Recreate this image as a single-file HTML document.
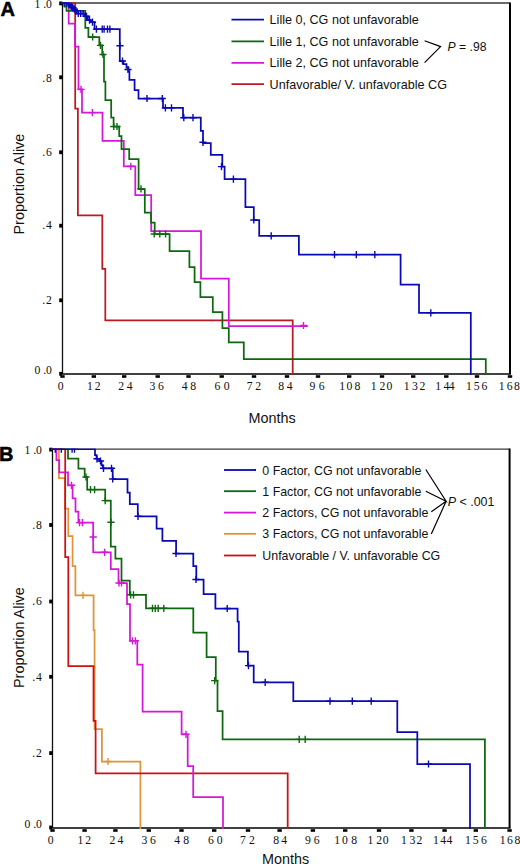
<!DOCTYPE html>
<html><head><meta charset="utf-8"><title>Kaplan-Meier survival curves</title>
<style>
html,body{margin:0;padding:0;background:#fff;}
body{width:520px;height:864px;overflow:hidden;}
svg{display:block;}
.tl{font-family:"Liberation Serif",serif;font-size:11.7px;fill:#111;}
.yl{font-family:"Liberation Serif",serif;font-size:11.7px;fill:#111;}
.lg{font-family:"Liberation Sans",sans-serif;font-size:12.6px;fill:#111;}
.lgb{font-family:"Liberation Sans",sans-serif;font-size:12.4px;fill:#111;}
.at{font-family:"Liberation Sans",sans-serif;font-size:14.4px;fill:#111;}
.pl{font-family:"Liberation Sans",sans-serif;font-size:20px;font-weight:bold;fill:#000;stroke:#000;stroke-width:0.5px;}
</style></head>
<body>
<svg width="520" height="864" viewBox="0 0 520 864">
<rect width="520" height="864" fill="#fff"/>
<text x="0.4" y="15.6" class="pl">A</text>
<line x1="62.5" y1="3.0" x2="510.0" y2="3.0" stroke="#3a3a3a" stroke-width="1.3"/>
<line x1="510.0" y1="2.4" x2="510.0" y2="374.0" stroke="#000" stroke-width="2"/>
<line x1="62.5" y1="2.4" x2="62.5" y2="374.0" stroke="#111" stroke-width="1.3"/>
<line x1="62.5" y1="374.0" x2="511.0" y2="374.0" stroke="#000" stroke-width="1.7"/>
<rect x="60.3" y="375.2" width="4.4" height="2.6" fill="#000"/>
<rect x="91.6" y="375.2" width="4.4" height="2.6" fill="#000"/>
<rect x="122.0" y="375.2" width="4.4" height="2.6" fill="#000"/>
<rect x="155.5" y="375.2" width="4.4" height="2.6" fill="#000"/>
<rect x="186.3" y="375.2" width="4.4" height="2.6" fill="#000"/>
<rect x="219.5" y="375.2" width="4.4" height="2.6" fill="#000"/>
<rect x="251.8" y="375.2" width="4.4" height="2.6" fill="#000"/>
<rect x="284.8" y="375.2" width="4.4" height="2.6" fill="#000"/>
<rect x="315.8" y="375.2" width="4.4" height="2.6" fill="#000"/>
<rect x="347.0" y="375.2" width="4.4" height="2.6" fill="#000"/>
<rect x="379.8" y="375.2" width="4.4" height="2.6" fill="#000"/>
<rect x="411.0" y="375.2" width="4.4" height="2.6" fill="#000"/>
<rect x="444.1" y="375.2" width="4.4" height="2.6" fill="#000"/>
<rect x="474.8" y="375.2" width="4.4" height="2.6" fill="#000"/>
<rect x="507.8" y="375.2" width="4.4" height="2.6" fill="#000"/>
<text x="60.60" y="390.2" class="tl" text-anchor="middle">0</text>
<text x="90.00" y="390.2" class="tl" text-anchor="middle">1</text>
<text x="97.75" y="390.2" class="tl" text-anchor="middle">2</text>
<text x="121.25" y="390.2" class="tl" text-anchor="middle">2</text>
<text x="129.70" y="390.2" class="tl" text-anchor="middle">4</text>
<text x="152.50" y="390.2" class="tl" text-anchor="middle">3</text>
<text x="160.90" y="390.2" class="tl" text-anchor="middle">6</text>
<text x="184.70" y="390.2" class="tl" text-anchor="middle">4</text>
<text x="193.10" y="390.2" class="tl" text-anchor="middle">8</text>
<text x="217.50" y="390.2" class="tl" text-anchor="middle">6</text>
<text x="226.60" y="390.2" class="tl" text-anchor="middle">0</text>
<text x="249.70" y="390.2" class="tl" text-anchor="middle">7</text>
<text x="258.10" y="390.2" class="tl" text-anchor="middle">2</text>
<text x="281.25" y="390.2" class="tl" text-anchor="middle">8</text>
<text x="289.70" y="390.2" class="tl" text-anchor="middle">4</text>
<text x="312.50" y="390.2" class="tl" text-anchor="middle">9</text>
<text x="321.60" y="390.2" class="tl" text-anchor="middle">6</text>
<text x="342.20" y="390.2" class="tl" text-anchor="middle">1</text>
<text x="349.40" y="390.2" class="tl" text-anchor="middle">0</text>
<text x="357.50" y="390.2" class="tl" text-anchor="middle">8</text>
<text x="373.75" y="390.2" class="tl" text-anchor="middle">1</text>
<text x="382.50" y="390.2" class="tl" text-anchor="middle">2</text>
<text x="389.40" y="390.2" class="tl" text-anchor="middle">0</text>
<text x="406.60" y="390.2" class="tl" text-anchor="middle">1</text>
<text x="415.00" y="390.2" class="tl" text-anchor="middle">3</text>
<text x="422.50" y="390.2" class="tl" text-anchor="middle">2</text>
<text x="438.25" y="390.2" class="tl" text-anchor="middle">1</text>
<text x="446.30" y="390.2" class="tl" text-anchor="middle">4</text>
<text x="451.70" y="390.2" class="tl" text-anchor="middle">4</text>
<text x="469.00" y="390.2" class="tl" text-anchor="middle">1</text>
<text x="476.70" y="390.2" class="tl" text-anchor="middle">5</text>
<text x="484.50" y="390.2" class="tl" text-anchor="middle">6</text>
<text x="501.75" y="390.2" class="tl" text-anchor="middle">1</text>
<text x="509.60" y="390.2" class="tl" text-anchor="middle">6</text>
<text x="517.00" y="390.2" class="tl" text-anchor="middle">8</text>
<rect x="59.2" y="1.5" width="3.3" height="3.8" fill="#000"/>
<text x="37.40" y="7.6" class="yl" text-anchor="middle">1</text>
<text x="44.80" y="7.6" class="yl" text-anchor="middle">.</text>
<text x="49.00" y="7.6" class="yl" text-anchor="middle">0</text>
<rect x="59.2" y="75.4" width="3.3" height="3.8" fill="#000"/>
<text x="43.60" y="81.6" class="yl" text-anchor="middle">.</text>
<text x="48.80" y="81.6" class="yl" text-anchor="middle">8</text>
<rect x="59.2" y="150.4" width="3.3" height="3.8" fill="#000"/>
<text x="43.60" y="156.4" class="yl" text-anchor="middle">.</text>
<text x="48.80" y="156.4" class="yl" text-anchor="middle">6</text>
<rect x="59.2" y="223.8" width="3.3" height="3.8" fill="#000"/>
<text x="43.60" y="229.4" class="yl" text-anchor="middle">.</text>
<text x="48.80" y="229.4" class="yl" text-anchor="middle">4</text>
<rect x="59.2" y="298.4" width="3.3" height="3.8" fill="#000"/>
<text x="43.60" y="303.9" class="yl" text-anchor="middle">.</text>
<text x="48.80" y="303.9" class="yl" text-anchor="middle">2</text>
<rect x="59.2" y="371.9" width="3.3" height="3.8" fill="#000"/>
<text x="37.40" y="374.0" class="yl" text-anchor="middle">0</text>
<text x="44.80" y="374.0" class="yl" text-anchor="middle">.</text>
<text x="49.00" y="374.0" class="yl" text-anchor="middle">0</text>
<defs><clipPath id="ca"><rect x="0" y="2.3" width="520" height="420"/></clipPath><clipPath id="cb"><rect x="0" y="448.5" width="520" height="400"/></clipPath></defs>
<g clip-path="url(#ca)">
<path d="M62.5 3.0 L75.2 3.0 L75.2 108.6 L77.9 108.6 L77.9 215.3 L102.3 215.3 L102.3 268.9 L105.3 268.9 L105.3 320.4 L292.7 320.4 L292.7 374.0" stroke="#bc1a22" stroke-width="1.75" fill="none" stroke-linejoin="miter" stroke-linecap="square"/>
<path d="M62.5 3.0 L68.7 3.0 L68.7 23.6 L75.0 23.6 L75.0 46.6 L78.5 46.6 L78.5 89.4 L82.0 89.4 L82.0 112.6 L102.5 112.6 L102.5 140.8 L123.8 140.8 L123.8 166.3 L135.3 166.3 L135.3 195.0 L151.2 195.0 L151.2 231.0 L201.0 231.0 L201.0 278.7 L228.8 278.7 L228.8 326.2 L307.0 326.2" stroke="#d417d8" stroke-width="1.75" fill="none" stroke-linejoin="miter" stroke-linecap="square"/><path d="M81.0 85.8 V93.0 M77.4 89.4 H84.6 M92.4 109.0 V116.2 M88.8 112.6 H96.0 M130.8 162.7 V169.9 M127.2 166.3 H134.4 M303.5 321.9 V329.1 M299.9 325.5 H307.1 " stroke="#d417d8" stroke-width="1.4" fill="none"/>
<path d="M62.5 3.0 L64.6 3.0 L64.6 6.5 L66.5 6.5 L66.5 10.8 L85.3 10.8 L85.3 27.9 L88.4 27.9 L88.4 37.0 L99.3 37.0 L99.3 45.4 L102.2 45.4 L102.2 54.5 L104.0 54.5 L104.0 81.5 L105.4 81.5 L105.4 100.0 L111.2 100.0 L111.2 117.7 L113.6 117.7 L113.6 126.5 L119.2 126.5 L119.2 136.0 L121.5 136.0 L121.5 149.2 L129.2 149.2 L129.2 159.2 L138.6 159.2 L138.6 189.0 L144.8 189.0 L144.8 212.5 L151.0 212.5 L151.0 222.6 L154.7 222.6 L154.7 234.0 L169.6 234.0 L169.6 251.2 L189.4 251.2 L189.4 267.0 L194.6 267.0 L194.6 282.0 L200.4 282.0 L200.4 297.1 L212.8 297.1 L212.8 312.0 L222.4 312.0 L222.4 328.0 L228.8 328.0 L228.8 342.4 L243.8 342.4 L243.8 359.1 L485.8 359.1 L485.8 374.0" stroke="#0f680f" stroke-width="1.75" fill="none" stroke-linejoin="miter" stroke-linecap="square"/><path d="M92.7 33.4 V40.6 M89.1 37.0 H96.3 M100.5 41.8 V49.0 M96.9 45.4 H104.1 M103.0 50.9 V58.1 M99.4 54.5 H106.6 M113.8 122.9 V130.1 M110.2 126.5 H117.4 M117.0 122.9 V130.1 M113.4 126.5 H120.6 M141.0 185.2 V192.4 M137.4 188.8 H144.6 M154.2 230.4 V237.6 M150.6 234.0 H157.8 M159.8 230.4 V237.6 M156.2 234.0 H163.4 M165.6 230.4 V237.6 M162.0 234.0 H169.2 " stroke="#0f680f" stroke-width="1.4" fill="none"/>
<path d="M62.5 3.0 L68.2 3.0 L68.2 4.6 L70.0 4.6 L70.0 6.2 L72.0 6.2 L72.0 7.7 L73.6 7.7 L73.6 9.2 L75.2 9.2 L75.2 10.8 L76.8 10.8 L76.8 13.5 L85.0 13.5 L85.0 16.3 L87.9 16.3 L87.9 20.2 L90.8 20.2 L90.8 22.2 L94.5 22.2 L94.5 29.1 L119.8 29.1 L119.8 61.0 L123.5 61.0 L123.5 64.0 L126.5 64.0 L126.5 67.5 L128.5 67.5 L128.5 71.0 L129.4 71.0 L129.4 79.8 L134.6 79.8 L134.6 90.0 L138.5 90.0 L138.5 98.5 L163.0 98.5 L163.0 107.9 L183.0 107.9 L183.0 117.7 L200.8 117.7 L200.8 130.8 L203.0 130.8 L203.0 143.0 L210.8 143.0 L210.8 154.8 L222.3 154.8 L222.3 166.6 L224.6 166.6 L224.6 179.2 L245.4 179.2 L245.4 207.0 L253.8 207.0 L253.8 220.0 L259.2 220.0 L259.2 235.8 L298.9 235.8 L298.9 254.6 L400.6 254.6 L400.6 284.6 L419.0 284.6 L419.0 312.9 L470.8 312.9 L470.8 374.0" stroke="#0a0ab4" stroke-width="1.75" fill="none" stroke-linejoin="miter" stroke-linecap="square"/><path d="M64.2 -0.6 V6.6 M60.6 3.0 H67.8 M66.2 -0.6 V6.6 M62.6 3.0 H69.8 M69.0 1.0 V8.2 M65.4 4.6 H72.6 M71.0 2.6 V9.8 M67.4 6.2 H74.6 M72.8 4.1 V11.3 M69.2 7.7 H76.4 M74.4 5.6 V12.8 M70.8 9.2 H78.0 M76.0 7.2 V14.4 M72.4 10.8 H79.6 M78.3 9.9 V17.1 M74.7 13.5 H81.9 M80.7 9.9 V17.1 M77.1 13.5 H84.3 M83.1 9.9 V17.1 M79.5 13.5 H86.7 M86.5 12.7 V19.9 M82.9 16.3 H90.1 M89.5 16.6 V23.8 M85.9 20.2 H93.1 M92.5 18.6 V25.8 M88.9 22.2 H96.1 M96.4 25.5 V32.7 M92.8 29.1 H100.0 M102.2 25.5 V32.7 M98.6 29.1 H105.8 M104.1 25.5 V32.7 M100.5 29.1 H107.7 M107.5 25.5 V32.7 M103.9 29.1 H111.1 M109.9 25.5 V32.7 M106.3 29.1 H113.5 M120.0 42.2 V49.4 M116.4 45.8 H123.6 M122.5 57.4 V64.6 M118.9 61.0 H126.1 M128.0 65.9 V73.1 M124.4 69.5 H131.6 M147.0 94.9 V102.1 M143.4 98.5 H150.6 M162.3 94.9 V102.1 M158.7 98.5 H165.9 M165.4 104.3 V111.5 M161.8 107.9 H169.0 M171.5 104.3 V111.5 M167.9 107.9 H175.1 M183.8 114.1 V121.3 M180.2 117.7 H187.4 M193.0 114.1 V121.3 M189.4 117.7 H196.6 M203.0 138.7 V145.9 M199.4 142.3 H206.6 M221.5 163.0 V170.2 M217.9 166.6 H225.1 M233.4 175.6 V182.8 M229.8 179.2 H237.0 M253.8 216.4 V223.6 M250.2 220.0 H257.4 M271.2 232.2 V239.4 M267.6 235.8 H274.8 M334.5 251.0 V258.2 M330.9 254.6 H338.1 M356.3 251.0 V258.2 M352.7 254.6 H359.9 M374.8 251.0 V258.2 M371.2 254.6 H378.4 M430.8 309.3 V316.5 M427.2 312.9 H434.4 " stroke="#0a0ab4" stroke-width="1.4" fill="none"/>
</g>
<line x1="231.5" y1="19.6" x2="264.0" y2="19.6" stroke="#0a0ab4" stroke-width="1.8"/>
<text x="269.6" y="24.2" class="lg">Lille 0, CG not unfavorable</text>
<line x1="231.5" y1="41.3" x2="264.0" y2="41.3" stroke="#0f680f" stroke-width="1.8"/>
<text x="269.6" y="45.9" class="lg">Lille 1, CG not unfavorable</text>
<line x1="231.5" y1="62.8" x2="264.0" y2="62.8" stroke="#d417d8" stroke-width="1.8"/>
<text x="269.6" y="67.4" class="lg">Lille 2, CG not unfavorable</text>
<line x1="231.5" y1="84.2" x2="264.0" y2="84.2" stroke="#bc1a22" stroke-width="1.8"/>
<text x="269.6" y="88.8" class="lg">Unfavorable/ V. unfavorable CG</text>
<path d="M424.6 40.8 L440.6 46.6 L424.6 62.6" stroke="#000" stroke-width="1.2" fill="none"/>
<text x="447.5" y="51.2" class="lg" style="font-size:12.2px"><tspan font-style="italic">P</tspan> = .98</text>
<text x="248.4" y="422.8" class="at">Months</text>
<text transform="translate(23.75 234.5) rotate(-90)" class="at">Proportion Alive</text>
<text x="-1" y="460.5" class="pl">B</text>
<line x1="52.5" y1="449.2" x2="509.6" y2="449.2" stroke="#3a3a3a" stroke-width="1.3"/>
<line x1="509.6" y1="448.6" x2="509.6" y2="828.0" stroke="#000" stroke-width="2"/>
<line x1="52.5" y1="448.6" x2="52.5" y2="828.0" stroke="#111" stroke-width="1.3"/>
<line x1="52.5" y1="828.0" x2="510.6" y2="828.0" stroke="#000" stroke-width="1.7"/>
<rect x="50.3" y="829.2" width="4.4" height="2.6" fill="#000"/>
<rect x="82.4" y="829.2" width="4.4" height="2.6" fill="#000"/>
<rect x="113.2" y="829.2" width="4.4" height="2.6" fill="#000"/>
<rect x="146.6" y="829.2" width="4.4" height="2.6" fill="#000"/>
<rect x="179.3" y="829.2" width="4.4" height="2.6" fill="#000"/>
<rect x="212.0" y="829.2" width="4.4" height="2.6" fill="#000"/>
<rect x="245.8" y="829.2" width="4.4" height="2.6" fill="#000"/>
<rect x="277.4" y="829.2" width="4.4" height="2.6" fill="#000"/>
<rect x="310.7" y="829.2" width="4.4" height="2.6" fill="#000"/>
<rect x="343.0" y="829.2" width="4.4" height="2.6" fill="#000"/>
<rect x="376.8" y="829.2" width="4.4" height="2.6" fill="#000"/>
<rect x="409.2" y="829.2" width="4.4" height="2.6" fill="#000"/>
<rect x="442.4" y="829.2" width="4.4" height="2.6" fill="#000"/>
<rect x="473.6" y="829.2" width="4.4" height="2.6" fill="#000"/>
<rect x="507.4" y="829.2" width="4.4" height="2.6" fill="#000"/>
<text x="50.60" y="844.2" class="tl" text-anchor="middle">0</text>
<text x="80.30" y="844.2" class="tl" text-anchor="middle">1</text>
<text x="88.10" y="844.2" class="tl" text-anchor="middle">2</text>
<text x="112.50" y="844.2" class="tl" text-anchor="middle">2</text>
<text x="120.30" y="844.2" class="tl" text-anchor="middle">4</text>
<text x="144.40" y="844.2" class="tl" text-anchor="middle">3</text>
<text x="152.80" y="844.2" class="tl" text-anchor="middle">6</text>
<text x="177.20" y="844.2" class="tl" text-anchor="middle">4</text>
<text x="186.25" y="844.2" class="tl" text-anchor="middle">8</text>
<text x="210.90" y="844.2" class="tl" text-anchor="middle">6</text>
<text x="219.70" y="844.2" class="tl" text-anchor="middle">0</text>
<text x="242.80" y="844.2" class="tl" text-anchor="middle">7</text>
<text x="251.90" y="844.2" class="tl" text-anchor="middle">2</text>
<text x="276.25" y="844.2" class="tl" text-anchor="middle">8</text>
<text x="284.10" y="844.2" class="tl" text-anchor="middle">4</text>
<text x="307.80" y="844.2" class="tl" text-anchor="middle">9</text>
<text x="316.60" y="844.2" class="tl" text-anchor="middle">6</text>
<text x="337.20" y="844.2" class="tl" text-anchor="middle">1</text>
<text x="345.00" y="844.2" class="tl" text-anchor="middle">0</text>
<text x="354.10" y="844.2" class="tl" text-anchor="middle">8</text>
<text x="370.30" y="844.2" class="tl" text-anchor="middle">1</text>
<text x="379.10" y="844.2" class="tl" text-anchor="middle">2</text>
<text x="385.60" y="844.2" class="tl" text-anchor="middle">0</text>
<text x="404.00" y="844.2" class="tl" text-anchor="middle">1</text>
<text x="412.50" y="844.2" class="tl" text-anchor="middle">3</text>
<text x="419.40" y="844.2" class="tl" text-anchor="middle">2</text>
<text x="436.00" y="844.2" class="tl" text-anchor="middle">1</text>
<text x="443.25" y="844.2" class="tl" text-anchor="middle">4</text>
<text x="449.40" y="844.2" class="tl" text-anchor="middle">4</text>
<text x="468.00" y="844.2" class="tl" text-anchor="middle">1</text>
<text x="475.70" y="844.2" class="tl" text-anchor="middle">5</text>
<text x="484.00" y="844.2" class="tl" text-anchor="middle">6</text>
<text x="502.70" y="844.2" class="tl" text-anchor="middle">1</text>
<text x="510.00" y="844.2" class="tl" text-anchor="middle">6</text>
<text x="517.30" y="844.2" class="tl" text-anchor="middle">8</text>
<rect x="49.2" y="447.7" width="3.3" height="3.8" fill="#000"/>
<text x="27.40" y="454.4" class="yl" text-anchor="middle">1</text>
<text x="34.80" y="454.4" class="yl" text-anchor="middle">.</text>
<text x="39.00" y="454.4" class="yl" text-anchor="middle">0</text>
<rect x="49.2" y="523.1" width="3.3" height="3.8" fill="#000"/>
<text x="33.60" y="528.6" class="yl" text-anchor="middle">.</text>
<text x="38.80" y="528.6" class="yl" text-anchor="middle">8</text>
<rect x="49.2" y="599.6" width="3.3" height="3.8" fill="#000"/>
<text x="33.60" y="605.4" class="yl" text-anchor="middle">.</text>
<text x="38.80" y="605.4" class="yl" text-anchor="middle">6</text>
<rect x="49.2" y="674.9" width="3.3" height="3.8" fill="#000"/>
<text x="33.60" y="681.1" class="yl" text-anchor="middle">.</text>
<text x="38.80" y="681.1" class="yl" text-anchor="middle">4</text>
<rect x="49.2" y="751.2" width="3.3" height="3.8" fill="#000"/>
<text x="33.60" y="756.6" class="yl" text-anchor="middle">.</text>
<text x="38.80" y="756.6" class="yl" text-anchor="middle">2</text>
<rect x="49.2" y="825.6" width="3.3" height="3.8" fill="#000"/>
<text x="27.40" y="827.6" class="yl" text-anchor="middle">0</text>
<text x="34.80" y="827.6" class="yl" text-anchor="middle">.</text>
<text x="39.00" y="827.6" class="yl" text-anchor="middle">0</text>
<g clip-path="url(#cb)">
<path d="M52.5 449.2 L58.9 449.2 L58.9 478.0 L65.0 478.0 L65.0 508.7 L68.3 508.7 L68.3 536.0 L72.6 536.0 L72.6 566.0 L75.4 566.0 L75.4 595.4 L93.6 595.4 L93.6 630.0 L94.6 630.0 L94.6 729.2 L101.9 729.2 L101.9 761.5 L140.4 761.5 L140.4 828.0" stroke="#de943a" stroke-width="1.75" fill="none" stroke-linejoin="miter" stroke-linecap="square"/><path d="M83.0 591.8 V599.0 M79.4 595.4 H86.6 M108.0 757.9 V765.1 M104.4 761.5 H111.6 " stroke="#de943a" stroke-width="1.4" fill="none"/>
<path d="M52.5 449.2 L65.2 449.2 L65.2 557.0 L68.3 557.0 L68.3 666.0 L93.5 666.0 L93.5 720.8 L95.6 720.8 L95.6 773.3 L287.7 773.3 L287.7 828.0" stroke="#cf1010" stroke-width="1.75" fill="none" stroke-linejoin="miter" stroke-linecap="square"/>
<path d="M52.5 449.2 L56.4 449.2 L56.4 460.0 L59.3 460.0 L59.3 472.3 L68.0 472.3 L68.0 485.3 L72.6 485.3 L72.6 498.3 L75.5 498.3 L75.5 511.5 L78.4 511.5 L78.4 522.6 L93.2 522.6 L93.2 552.3 L110.8 552.3 L110.8 569.0 L118.5 569.0 L118.5 583.0 L127.0 583.0 L127.0 604.0 L130.0 604.0 L130.0 640.8 L137.3 640.8 L137.3 664.6 L142.6 664.6 L142.6 711.5 L181.6 711.5 L181.6 734.3 L187.7 734.3 L187.7 766.0 L193.2 766.0 L193.2 797.0 L223.0 797.0 L223.0 828.0" stroke="#d417d8" stroke-width="1.75" fill="none" stroke-linejoin="miter" stroke-linecap="square"/><path d="M71.5 481.7 V488.9 M67.9 485.3 H75.1 M79.5 519.0 V526.2 M75.9 522.6 H83.1 M82.4 519.0 V526.2 M78.8 522.6 H86.0 M93.2 533.4 V540.6 M89.6 537.0 H96.8 M104.6 548.7 V555.9 M101.0 552.3 H108.2 M119.0 579.4 V586.6 M115.4 583.0 H122.6 M121.5 579.4 V586.6 M117.9 583.0 H125.1 M132.5 637.2 V644.4 M128.9 640.8 H136.1 M135.4 637.2 V644.4 M131.8 640.8 H139.0 M186.0 730.7 V737.9 M182.4 734.3 H189.6 " stroke="#d417d8" stroke-width="1.4" fill="none"/>
<path d="M52.5 449.2 L68.0 449.2 L68.0 458.7 L78.4 458.7 L78.4 468.7 L84.7 468.7 L84.7 477.0 L87.2 477.0 L87.2 489.6 L105.2 489.6 L105.2 500.6 L110.8 500.6 L110.8 546.5 L115.4 546.5 L115.4 558.5 L121.5 558.5 L121.5 580.5 L129.8 580.5 L129.8 594.8 L146.0 594.8 L146.0 608.3 L193.3 608.3 L193.3 632.5 L206.6 632.5 L206.6 657.0 L215.8 657.0 L215.8 680.6 L217.5 680.6 L217.5 711.2 L222.6 711.2 L222.6 739.4 L484.9 739.4 L484.9 828.0" stroke="#0f680f" stroke-width="1.75" fill="none" stroke-linejoin="miter" stroke-linecap="square"/><path d="M86.0 473.4 V480.6 M82.4 477.0 H89.6 M90.5 486.0 V493.2 M86.9 489.6 H94.1 M94.6 486.0 V493.2 M91.0 489.6 H98.2 M105.2 497.0 V504.2 M101.6 500.6 H108.8 M111.0 518.7 V525.9 M107.4 522.3 H114.6 M130.6 591.2 V598.4 M127.0 594.8 H134.2 M133.5 591.2 V598.4 M129.9 594.8 H137.1 M152.5 604.7 V611.9 M148.9 608.3 H156.1 M155.3 604.7 V611.9 M151.7 608.3 H158.9 M158.2 604.7 V611.9 M154.6 608.3 H161.8 M163.8 604.7 V611.9 M160.2 608.3 H167.4 M214.7 677.0 V684.2 M211.1 680.6 H218.3 M299.2 735.8 V743.0 M295.6 739.4 H302.8 M305.2 735.8 V743.0 M301.6 739.4 H308.8 " stroke="#0f680f" stroke-width="1.4" fill="none"/>
<path d="M52.5 449.2 L95.0 449.2 L95.0 455.0 L96.5 455.0 L96.5 458.8 L99.5 458.8 L99.5 461.0 L101.5 461.0 L101.5 465.0 L102.7 465.0 L102.7 468.3 L112.7 468.3 L112.7 479.0 L127.5 479.0 L127.5 492.7 L129.8 492.7 L129.8 504.0 L137.8 504.0 L137.8 516.3 L156.6 516.3 L156.6 528.6 L162.4 528.6 L162.4 540.8 L176.1 540.8 L176.1 553.5 L193.3 553.5 L193.3 566.0 L196.3 566.0 L196.3 579.5 L203.6 579.5 L203.6 594.0 L215.4 594.0 L215.4 608.5 L237.6 608.5 L237.6 621.6 L238.8 621.6 L238.8 651.5 L247.9 651.5 L247.9 665.6 L253.7 665.6 L253.7 682.3 L293.3 682.3 L293.3 701.2 L397.3 701.2 L397.3 732.0 L417.3 732.0 L417.3 764.0 L470.0 764.0 L470.0 828.0" stroke="#0a0ab4" stroke-width="1.75" fill="none" stroke-linejoin="miter" stroke-linecap="square"/><path d="M55.3 445.6 V452.8 M51.7 449.2 H58.9 M61.3 445.6 V452.8 M57.7 449.2 H64.9 M72.1 445.6 V452.8 M68.5 449.2 H75.7 M74.5 445.6 V452.8 M70.9 449.2 H78.1 M97.0 455.2 V462.4 M93.4 458.8 H100.6 M100.5 457.4 V464.6 M96.9 461.0 H104.1 M103.5 464.7 V471.9 M99.9 468.3 H107.1 M111.5 464.7 V471.9 M107.9 468.3 H115.1 M112.7 475.4 V482.6 M109.1 479.0 H116.3 M138.0 512.7 V519.9 M134.4 516.3 H141.6 M176.0 549.9 V557.1 M172.4 553.5 H179.6 M196.0 575.9 V583.1 M192.4 579.5 H199.6 M227.2 604.9 V612.1 M223.6 608.5 H230.8 M248.5 662.0 V669.2 M244.9 665.6 H252.1 M265.2 678.7 V685.9 M261.6 682.3 H268.8 M330.0 697.6 V704.8 M326.4 701.2 H333.6 M352.3 697.6 V704.8 M348.7 701.2 H355.9 M371.2 697.6 V704.8 M367.6 701.2 H374.8 M428.5 760.4 V767.6 M424.9 764.0 H432.1 " stroke="#0a0ab4" stroke-width="1.4" fill="none"/>
</g>
<line x1="224.0" y1="470.0" x2="256.0" y2="470.0" stroke="#0a0ab4" stroke-width="1.8"/>
<text x="262.3" y="474.6" class="lgb">0 Factor, CG not unfavorable</text>
<line x1="224.0" y1="491.2" x2="256.0" y2="491.2" stroke="#0f680f" stroke-width="1.8"/>
<text x="262.3" y="495.8" class="lgb">1 Factor, CG not unfavorable</text>
<line x1="224.0" y1="512.6" x2="256.0" y2="512.6" stroke="#d417d8" stroke-width="1.8"/>
<text x="262.3" y="517.2" class="lgb">2 Factors, CG not unfavorable</text>
<line x1="224.0" y1="533.8" x2="256.0" y2="533.8" stroke="#de943a" stroke-width="1.8"/>
<text x="262.3" y="538.4" class="lgb">3 Factors, CG not unfavorable</text>
<line x1="224.0" y1="555.5" x2="256.0" y2="555.5" stroke="#cf1010" stroke-width="1.8"/>
<text x="262.3" y="560.1" class="lgb">Unfavorable / V. unfavorable CG</text>
<path d="M425.8 469.5 L446.1 501.3 L425.8 491.3 M446.1 501.3 L431.3 511.8 M446.1 501.3 L431.3 534" stroke="#000" stroke-width="1.2" fill="none"/>
<text x="447.8" y="506.1" class="lgb"><tspan font-style="italic">P</tspan> &lt; .001</text>
<text x="262" y="864" class="at">Months</text>
<text transform="translate(23.75 688) rotate(-90)" class="at">Proportion Alive</text>
</svg>
</body></html>
